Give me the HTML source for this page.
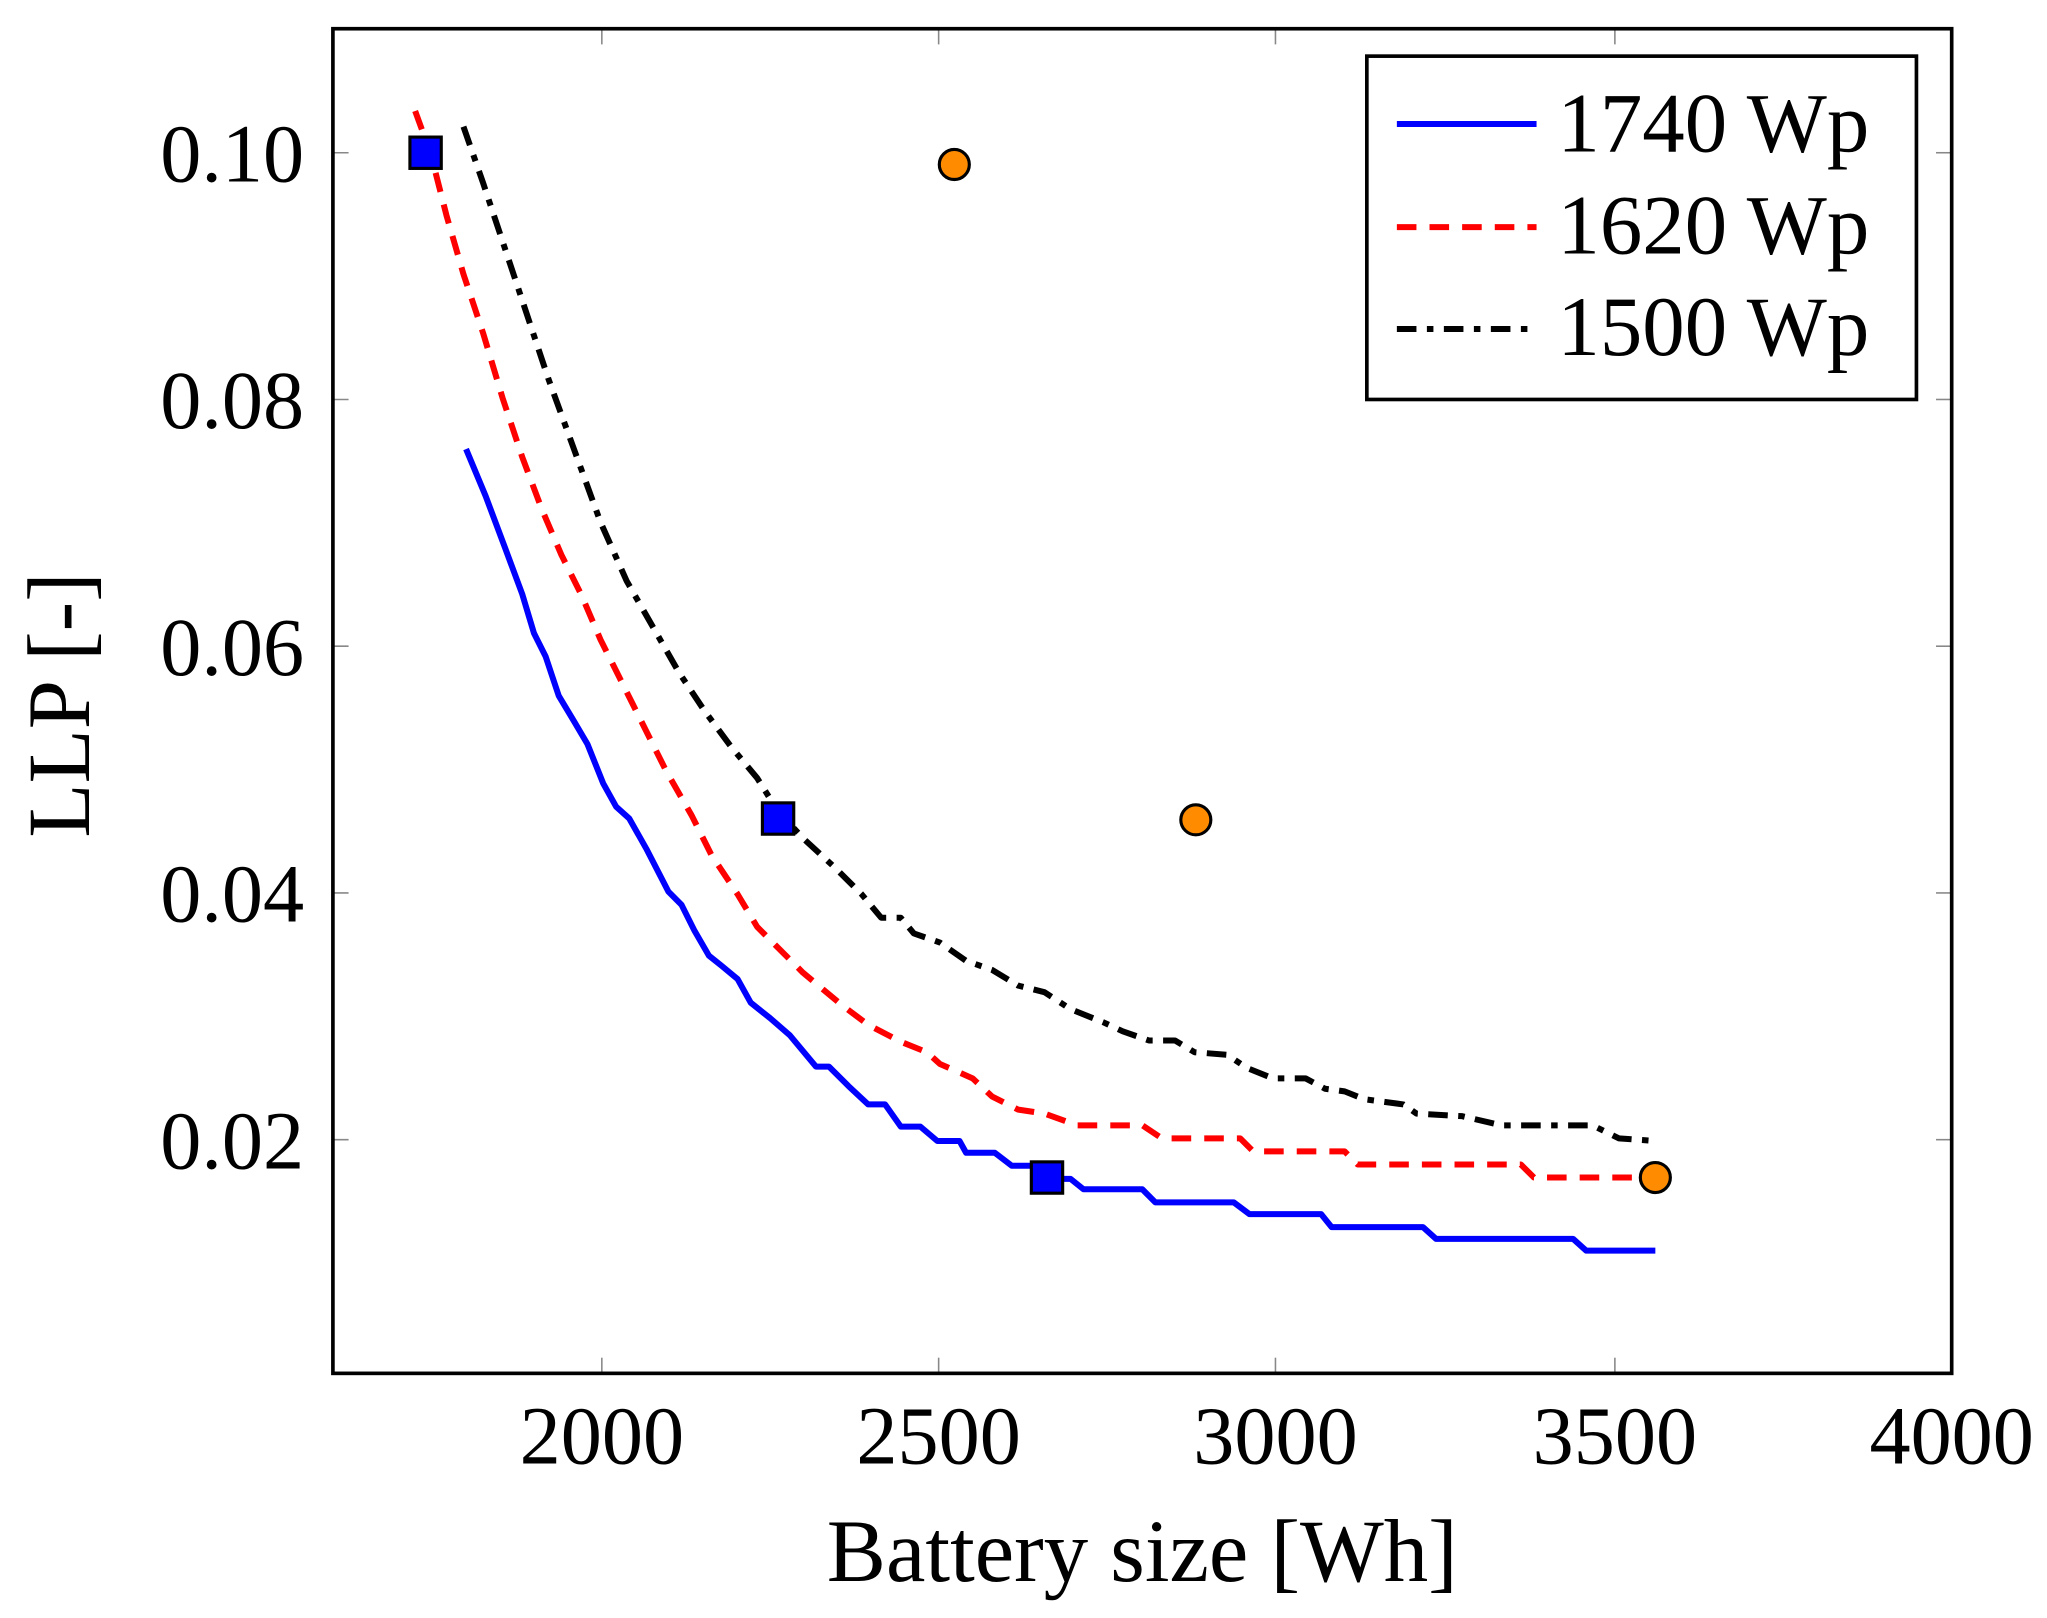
<!DOCTYPE html>
<html><head><meta charset="utf-8"><style>html,body{margin:0;padding:0;background:#fff}svg{display:block}</style></head>
<body>
<svg width="2047" height="1618" viewBox="0 0 1568 1239.4" xmlns="http://www.w3.org/2000/svg" font-family="'Liberation Serif', serif">
<rect x="0" y="0" width="1568" height="1240" fill="#fff"/>
<g stroke="#888" stroke-width="1.2">
<line x1="461" y1="22" x2="461" y2="34"/><line x1="461" y1="1052" x2="461" y2="1040"/>
<line x1="719" y1="22" x2="719" y2="34"/><line x1="719" y1="1052" x2="719" y2="1040"/>
<line x1="977" y1="22" x2="977" y2="34"/><line x1="977" y1="1052" x2="977" y2="1040"/>
<line x1="1237" y1="22" x2="1237" y2="34"/><line x1="1237" y1="1052" x2="1237" y2="1040"/>
<line x1="255" y1="117" x2="267" y2="117"/><line x1="1495" y1="117" x2="1483" y2="117"/>
<line x1="255" y1="306" x2="267" y2="306"/><line x1="1495" y1="306" x2="1483" y2="306"/>
<line x1="255" y1="495" x2="267" y2="495"/><line x1="1495" y1="495" x2="1483" y2="495"/>
<line x1="255" y1="684" x2="267" y2="684"/><line x1="1495" y1="684" x2="1483" y2="684"/>
<line x1="255" y1="873" x2="267" y2="873"/><line x1="1495" y1="873" x2="1483" y2="873"/>
</g>
<g fill="none" stroke-width="4.6" stroke-linejoin="round">
<polyline stroke="#00f" points="357,344 372,380 387,420 400,455 409,485 418,503 428,533 440,553 450,570 462,600 472,618 482,627 495,650 512,683 522,693 532,713 543,732 553,740 565,750 575,768 590,780 605,793 625,817 635,817 650,832 665,846 678,846 690,863 705,863 718,874 735,874 740,883 762,883 775,893 790,893 800,903 820,903 830,911 875,911 885,921 945,921 957,930 1012,930 1020,940 1090,940 1100,949 1205,949 1215,958 1268,958"/>
<polyline stroke="#f00" stroke-dasharray="15,10" points="318,85 330,118 342,165 355,210 370,255 385,305 400,350 415,390 430,425 445,455 460,490 475,520 490,550 510,590 530,625 545,655 565,685 580,710 595,725 615,745 645,770 665,785 690,798 710,806 720,815 745,826 760,840 780,850 800,853 825,862 875,862 890,872 950,872 960,882 1030,882 1040,892 1165,892 1175,902 1260,902 1268,913"/>
<polyline stroke="#000" stroke-dasharray="15,8,5,8" points="355,97 370,140 385,185 400,230 420,290 440,345 460,400 480,445 500,480 520,515 540,545 560,572 580,596 595,620 615,642 640,665 660,685 675,703 690,703 700,715 720,722 740,736 760,743 780,755 800,760 820,773 845,783 860,790 880,797 900,797 915,806 940,808 955,818 975,826 1000,826 1015,834 1030,836 1045,842 1075,846 1085,853 1120,855 1150,862 1220,862 1240,872 1268,874"/>
</g>
<g fill="#00f" stroke="#000" stroke-width="2.4">
<rect x="314" y="105" width="24" height="24"/>
<rect x="584" y="615" width="24" height="24"/>
<rect x="790" y="890" width="24" height="24"/>
</g>
<g fill="#ff8c00" stroke="#000" stroke-width="2.4">
<circle cx="731" cy="126" r="11.5"/>
<circle cx="916" cy="628" r="11.5"/>
<circle cx="1268" cy="902" r="11.5"/>
</g>
<rect x="255" y="22" width="1240" height="1030" fill="none" stroke="#000" stroke-width="2.8"/>
<g font-size="63" text-anchor="end" fill="#000">
<text x="233" y="139">0.10</text>
<text x="233" y="328">0.08</text>
<text x="233" y="517">0.06</text>
<text x="233" y="706">0.04</text>
<text x="233" y="895">0.02</text>
</g>
<g font-size="63" text-anchor="middle" fill="#000">
<text x="461" y="1121">2000</text>
<text x="719" y="1121">2500</text>
<text x="977" y="1121">3000</text>
<text x="1237" y="1121">3500</text>
<text x="1495" y="1121">4000</text>
<text x="875" y="1211" font-size="68">Battery size [Wh]</text>
<text transform="translate(68,540) rotate(-90)" font-size="68">LLP [-]</text>
</g>
<rect x="1047" y="43" width="421" height="263" fill="#fff" stroke="#000" stroke-width="2.8"/>
<line x1="1070" y1="95" x2="1177" y2="95" stroke="#00f" stroke-width="4.6"/>
<line x1="1070" y1="174" x2="1177" y2="174" stroke="#f00" stroke-width="4.6" stroke-dasharray="15,10"/>
<line x1="1070" y1="252" x2="1177" y2="252" stroke="#000" stroke-width="4.6" stroke-dasharray="15,8,5,8"/>
<g font-size="65" fill="#000">
<text x="1193" y="116">1740 Wp</text>
<text x="1193" y="194">1620 Wp</text>
<text x="1193" y="272">1500 Wp</text>
</g>
</svg>
</body></html>
